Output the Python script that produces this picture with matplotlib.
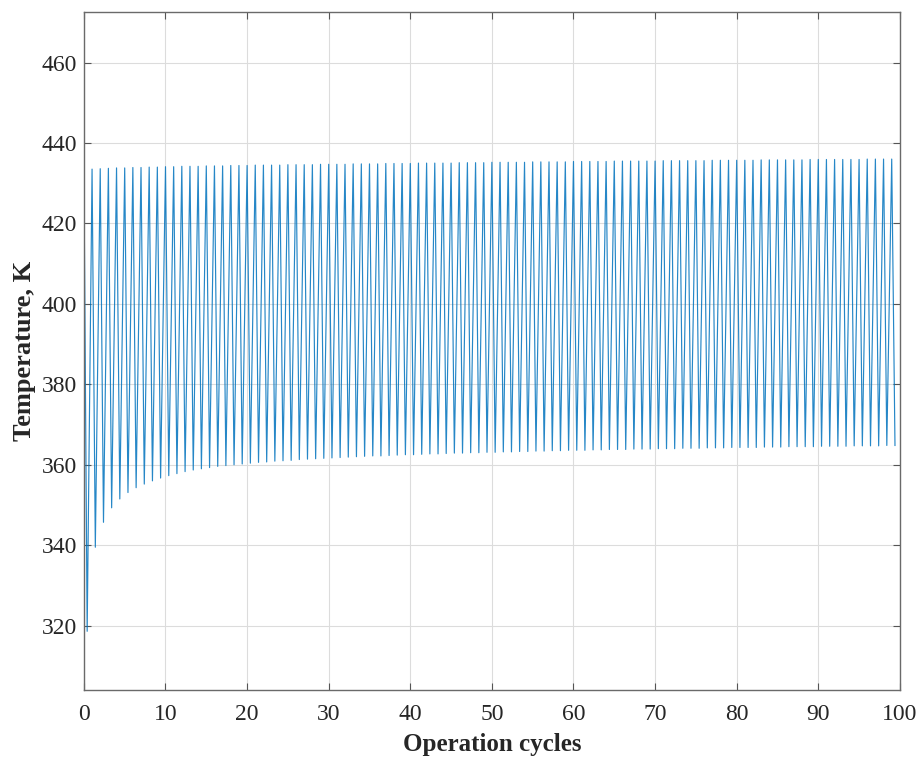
import numpy as np
import matplotlib.pyplot as plt

# peak / trough temperature of each operation cycle, K
peak_T = [
    433.3, 433.5, 433.6, 433.7, 433.8, 433.8, 433.9, 433.9, 434.0, 434.0,
    434.1, 434.1, 434.2, 434.2, 434.2, 434.3, 434.3, 434.3, 434.4, 434.4,
    434.4, 434.5, 434.5, 434.5, 434.5, 434.6, 434.6, 434.6, 434.6, 434.7,
    434.7, 434.7, 434.7, 434.8, 434.8, 434.8, 434.8, 434.9, 434.9, 434.9,
    434.9, 435.0, 435.0, 435.0, 435.0, 435.0, 435.1, 435.1, 435.1, 435.1,
    435.2, 435.2, 435.2, 435.2, 435.2, 435.3, 435.3, 435.3, 435.3, 435.3,
    435.4, 435.4, 435.4, 435.4, 435.4, 435.5, 435.5, 435.5, 435.5, 435.5,
    435.5, 435.6, 435.6, 435.6, 435.6, 435.6, 435.6, 435.7, 435.7, 435.7,
    435.7, 435.7, 435.7, 435.8, 435.8, 435.8, 435.8, 435.8, 435.8, 435.9,
    435.9, 435.9, 435.9, 435.9, 435.9, 435.9, 436.0, 436.0, 436.0, 436.0,
]
trough_T = [
    318.6, 339.5, 345.7, 349.3, 351.5, 353.1, 354.3, 355.2, 356.0, 356.7,
    357.3, 357.8, 358.3, 358.7, 359.0, 359.3, 359.6, 359.8, 360.0, 360.2,
    360.4, 360.6, 360.7, 360.9, 361.0, 361.1, 361.3, 361.4, 361.5, 361.6,
    361.7, 361.8, 361.9, 362.0, 362.1, 362.2, 362.2, 362.3, 362.4, 362.5,
    362.5, 362.6, 362.7, 362.7, 362.8, 362.9, 362.9, 363.0, 363.0, 363.1,
    363.1, 363.2, 363.2, 363.3, 363.3, 363.4, 363.4, 363.5, 363.5, 363.6,
    363.6, 363.6, 363.7, 363.7, 363.8, 363.8, 363.8, 363.9, 363.9, 363.9,
    364.0, 364.0, 364.0, 364.1, 364.1, 364.1, 364.2, 364.2, 364.2, 364.3,
    364.3, 364.3, 364.3, 364.4, 364.4, 364.4, 364.5, 364.5, 364.5, 364.5,
    364.6, 364.6, 364.6, 364.6, 364.7, 364.7, 364.7, 364.7, 364.8, 364.8,
]
cool_frac = 0.4  # fraction of a cycle spent cooling down to the trough

n = len(peak_T)
cyc = np.arange(n)
t = np.empty(2 * n)
T = np.empty(2 * n)
t[0::2] = cyc
t[1::2] = cyc + cool_frac
T[0::2] = peak_T
T[1::2] = trough_T

plt.rcParams['font.family'] = ['Liberation Serif', 'DejaVu Serif']

fig = plt.figure(figsize=(9.22, 7.65), dpi=100)
ax = fig.add_axes([0.091, 0.098, 0.885, 0.886])
ax.plot(t, T, color=(0, 0.447, 0.741), lw=0.85, alpha=0.85)

ax.set_xlim(0, 100)
ax.set_ylim(304, 472.5)
ax.set_xticks(np.arange(0, 101, 10))
ax.set_yticks(np.arange(320, 461, 20))
ax.grid(True, color='#dcdcdc', lw=0.8)
ax.set_axisbelow(True)
ax.tick_params(direction='in', top=True, right=True, labelsize=17,
               color='#555555', length=5, width=0.8, labelcolor='#262626')
ax.tick_params(axis='x', pad=10)
ax.tick_params(axis='y', pad=5)
for s in ax.spines.values():
    s.set_color('#6a6a6a')
    s.set_linewidth(1.0)

ax.set_xlabel('Operation cycles', fontsize=18, fontweight='bold', color='#262626', labelpad=6)
ax.set_ylabel('Temperature, K', fontsize=19, fontweight='bold', color='#262626', labelpad=4)

fig.savefig('out.png', dpi=100)
